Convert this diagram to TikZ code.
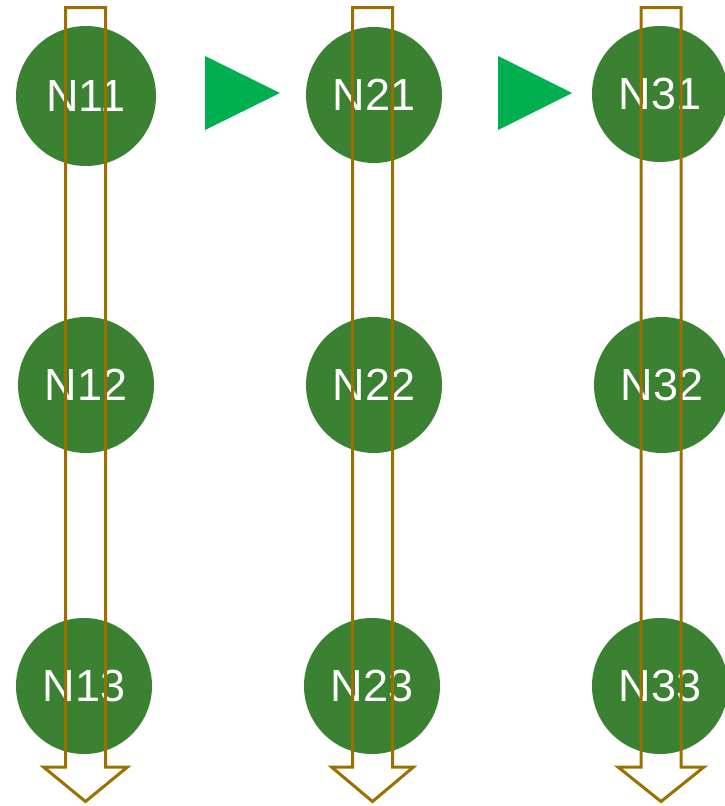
\documentclass[tikz,border=0pt]{standalone}
\usepackage{fontspec}
\setmainfont{Liberation Sans}
\definecolor{nodegreen}{HTML}{3B8132}
\definecolor{arrowgold}{HTML}{9A7000}
\definecolor{trigreen}{HTML}{00B050}
\begin{document}
\begin{tikzpicture}[x=1pt,y=-1pt,
  nodecirc/.style={circle,fill=nodegreen,minimum size=136pt,inner sep=0pt,text=white,font=\fontsize{45}{45}\selectfont},
  blockarrow/.style={draw=arrowgold,line width=3pt,line join=miter},
  tri/.style={fill=trigreen}]
\useasboundingbox (0,0) rectangle (724,806);
\node[nodecirc,minimum size=140pt] (N11) at (86,96) {N11};
\node[nodecirc] (N12) at (86,385) {N12};
\node[nodecirc] (N13) at (84,686) {N13};
\node[nodecirc] (N21) at (374,95) {N21};
\node[nodecirc] (N22) at (374,385) {N22};
\node[nodecirc] (N23) at (372,686) {N23};
\node[nodecirc] (N31) at (660,94) {N31};
\node[nodecirc] (N32) at (662,385) {N32};
\node[nodecirc] (N33) at (660,686) {N33};
% green triangles
\fill[tri] (205,56) -- (280,93) -- (205,130) -- cycle;
\fill[tri] (498,56) -- (572,93) -- (498,130) -- cycle;
% block arrows
\foreach \cx/\hw in {85.5/42, 372.5/41, 661/43} {
  \draw[blockarrow] (\cx-20,7.5) -- (\cx+20,7.5) -- (\cx+20,767) -- (\cx+\hw,767)
    -- (\cx,801.5) -- (\cx-\hw,767) -- (\cx-20,767) -- cycle;
}
\end{tikzpicture}
\end{document}
